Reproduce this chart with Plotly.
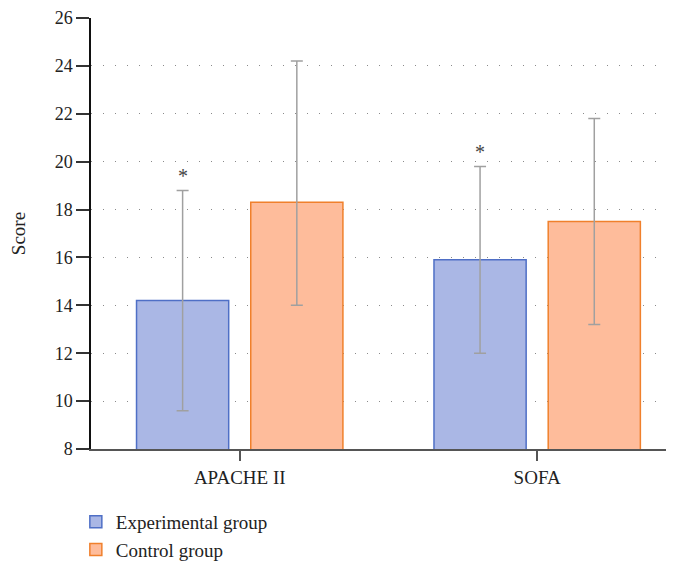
import plotly.graph_objects as go

categories = ["APACHE II", "SOFA"]
exp_values = [14.2, 15.9]
exp_err_plus = [4.6, 3.9]
exp_err_minus = [4.6, 3.9]
ctrl_values = [18.3, 17.5]
ctrl_err_plus = [5.9, 4.3]
ctrl_err_minus = [4.3, 4.3]
y_ticks = [8, 10, 12, 14, 16, 18, 20, 22, 24, 26]

FONT = "Liberation Serif"
TXT = "#222222"

fig = go.Figure()
fig.add_trace(go.Bar(
    name="Experimental group", x=categories, y=exp_values,
    marker=dict(color="#aab7e5", line=dict(color="#4f6fc6", width=1.5)),
    error_y=dict(type="data", array=exp_err_plus, arrayminus=exp_err_minus,
                 color="#a0a0a0", thickness=1.5, width=6),
))
fig.add_trace(go.Bar(
    name="Control group", x=categories, y=ctrl_values,
    marker=dict(color="#febc9b", line=dict(color="#f0802c", width=1.5)),
    error_y=dict(type="data", array=ctrl_err_plus, arrayminus=ctrl_err_minus,
                 color="#a0a0a0", thickness=1.5, width=6),
))

for c, v, e in zip(categories, exp_values, exp_err_plus):
    fig.add_annotation(x=c, y=v + e, text="*", showarrow=False, xshift=-57,
                       yanchor="bottom", yshift=1,
                       font=dict(family=FONT, size=20, color="#444444"))

# page body has an 8px default margin, so the figure is sized/offset to compensate
fig.update_layout(
    width=666, height=557,
    margin=dict(l=83, r=0, t=10, b=116, autoexpand=False),
    plot_bgcolor="white", paper_bgcolor="white",
    barmode="group", bargap=0.232, bargroupgap=0.193,
    font=dict(family=FONT, size=19, color=TXT),
    showlegend=True,
    legend=dict(orientation="v", x=-0.026, y=-0.125, xanchor="left", yanchor="top",
                font=dict(family=FONT, size=19, color=TXT),
                itemwidth=30, tracegroupgap=0, bgcolor="rgba(0,0,0,0)"),
)
fig.update_xaxes(
    range=[-0.5, 1.46], showline=True, linecolor="#555555", linewidth=1.5,
    ticks="outside", ticklen=10, tickcolor="#555555", tickwidth=1.5,
    showgrid=False, zeroline=False,
    tickfont=dict(family=FONT, size=19, color=TXT),
)
fig.update_yaxes(
    range=[8, 26], tickvals=y_ticks, showline=True, linecolor="#111111", linewidth=1.5,
    ticks="outside", ticklen=13, tickcolor="#333333", tickwidth=1.5,
    showgrid=True, gridcolor="#8a8a8a", gridwidth=1, griddash="1px,11px",
    zeroline=False,
    title=dict(text="Score", font=dict(family=FONT, size=19, color=TXT), standoff=24),
    tickfont=dict(family=FONT, size=18, color=TXT),
)

fig.write_html("out.html")
